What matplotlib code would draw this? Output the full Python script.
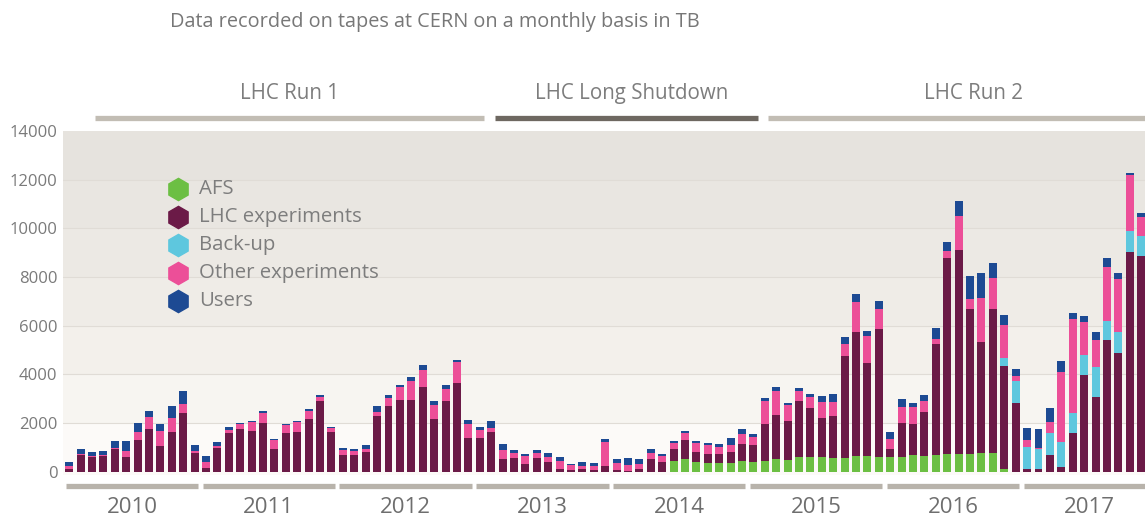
import numpy as np
import matplotlib
matplotlib.use("Agg")
import matplotlib.pyplot as plt

plt.rcParams['font.family'] = ['Open Sans', 'DejaVu Sans']

# monthly values in TB, Jan 2010 .. Nov 2017
afs = [0] * 53 + [425, 534, 390, 363, 363, 336, 432,
                  404, 432, 514, 459, 582, 610, 582, 541, 541, 651, 651, 610,
                  610, 596, 664, 637, 678, 719, 733, 706, 747, 747, 89, 0,
                  0, 0, 0, 0, 0, 0, 0, 0, 0, 0, 0]

lhc = [110, 685, 603, 644, 918, 589, 1315, 1767, 1069, 1617, 2398, 754,
       164, 959, 1576, 1740, 1658, 1987, 932, 1589, 1630, 2178, 2904, 1617,
       665, 665, 788, 2274, 2713, 2959, 2959, 3480, 2151, 2891, 3644, 1380,
       1397, 1630, 507, 548, 329, 548, 411, 110, 82, 96, 68, 215,
       62, 34, 116, 500, 390, 521, 770, 411, 356, 356, 466, 700,
       671, 1521, 1808, 1617, 2329, 1987, 1603, 1754, 4192, 5083, 3795, 5233,
       301, 1411, 1274, 1808, 4576, 8069, 8371, 5973, 4562, 5946, 4233, 2802,
       89, 89, 692, 171, 1596, 3966, 3076, 5405, 4857, 9035, 8871]

backup = [0] * 82 + [356, 918,
                     900, 849, 877, 1055, 822, 822, 1206, 781, 890, 849, 808]

other = [137, 55, 27, 27, 41, 260, 329, 480, 589, 603, 397, 82,
         219, 82, 123, 205, 370, 438, 356, 315, 397, 329, 164, 164,
         205, 178, 151, 192, 315, 507, 753, 712, 575, 520, 849, 580,
         315, 164, 370, 205, 301, 205, 178, 342, 205, 123, 151, 1020,
         301, 233, 205, 247, 247, 226, 268, 356, 356, 274, 301, 430,
         356, 945, 1000, 658, 397, 452, 685, 562, 507, 1233, 1123, 849,
         425, 658, 712, 466, 178, 260, 1384, 425, 1808, 1260, 1329, 206,
         301, 30, 480, 2850, 3836, 1343, 1123, 2233, 2165, 2302, 795]

users = [150, 205, 192, 192, 300, 397, 342, 247, 301, 466, 507, 247,
         274, 178, 151, 55, 55, 82, 68, 68, 55, 68, 82, 68,
         82, 82, 137, 219, 123, 96, 178, 178, 178, 151, 96, 160,
         137, 301, 274, 151, 82, 123, 178, 164, 41, 192, 137, 110,
         151, 274, 178, 164, 82, 89, 75, 110, 82, 123, 274, 178,
         123, 110, 137, 96, 110, 151, 233, 343, 288, 315, 206, 329,
         274, 329, 178, 219, 452, 384, 616, 918, 1028, 630, 411, 288,
         493, 767, 548, 466, 274, 260, 343, 343, 233, 96, 137]

years = ['2010', '2011', '2012', '2013', '2014', '2015', '2016', '2017']
series = ['AFS', 'LHC experiments', 'Back-up', 'Other experiments', 'Users']
colors = ['#6cbf43', '#6b1a47', '#5ec7de', '#ec4f98', '#1d4a93']

# LHC periods in month index: name, start, end, label centre, colour
periods = [('LHC Run 1', 2.3, 36.4, 19.3, '#c2bdb4'),
           ('LHC Long Shutdown', 37.3, 60.4, 49.35, '#6e6861'),
           ('LHC Run 2', 61.3, 96, 79.3, '#c2bdb4')]

fig = plt.figure(figsize=(11.45, 5.17), dpi=100)
ax = fig.add_axes([63 / 1145, 1 - 475.2 / 517, 1082 / 1145, 344.2 / 517])

x = np.arange(len(lhc))
data = [afs, lhc, backup, other, users]
bottom = np.zeros(len(x))
for vals, c in zip(data, colors):
    ax.bar(x, vals, 0.7, bottom=bottom, color=c, zorder=3, linewidth=0)
    bottom += np.array(vals)

ax.set_xlim(-0.544, 94.34)
ax.set_ylim(-150, 14000)

# banded background
bands = ['#fcfaf8', '#f7f5f1', '#f3f0eb', '#efece7', '#ece9e4', '#e9e6e1', '#e6e3de']
ax.axhspan(-150, 0, color=bands[0], zorder=0, lw=0)
for i, c in enumerate(bands):
    ax.axhspan(i * 2000, (i + 1) * 2000, color=c, zorder=0, lw=0)
    if i > 0:
        ax.axhline(i * 2000, color='#e0dcd6', lw=0.8, zorder=1)

for s in ax.spines.values():
    s.set_visible(False)
ax.set_xticks([])
ax.set_yticks(range(0, 14001, 2000))
ax.tick_params(axis='y', length=0, pad=4, labelsize=12, labelcolor='#7a7a7a')

# year bars and labels
tr = ax.get_xaxis_transform()
for i, yr in enumerate(years):
    ax.plot([12 * i - 0.3, 12 * i + 11.3], [-0.0314, -0.0314], transform=tr,
            color='#b8b3ab', lw=3.8, solid_capstyle='butt', clip_on=False)
    ax.text(12 * i + 5.5, -0.095, yr, transform=tr, ha='center', va='center',
            fontsize=16, color='#6e6e6e', clip_on=False)

# period bars and labels
for name, a, b, mid, c in periods:
    ax.plot([a, b], [1.0378, 1.0378], transform=tr, color=c, lw=3.8,
            solid_capstyle='butt', clip_on=False)
    ax.text(mid, 1.108, name, transform=tr, ha='center', va='center',
            fontsize=14.8, color='#7d7d7d', clip_on=False)

# legend
for i, (name, c) in enumerate(zip(series, colors)):
    yy = 1 - (189 + 28 * i) / 517
    fig.lines.append(plt.Line2D([178 / 1145], [yy], marker='h', markersize=16,
                                color=c, transform=fig.transFigure, lw=0))
    fig.text(199 / 1145, yy, name, ha='left', va='center', fontsize=14.7,
             color='#7d7d7d')

fig.text(170 / 1145, 1 - 22 / 517, 'Data recorded on tapes at CERN on a monthly basis in TB',
         ha='left', va='center', fontsize=14.3, color='#777777')

fig.savefig('out.png', dpi=100)
